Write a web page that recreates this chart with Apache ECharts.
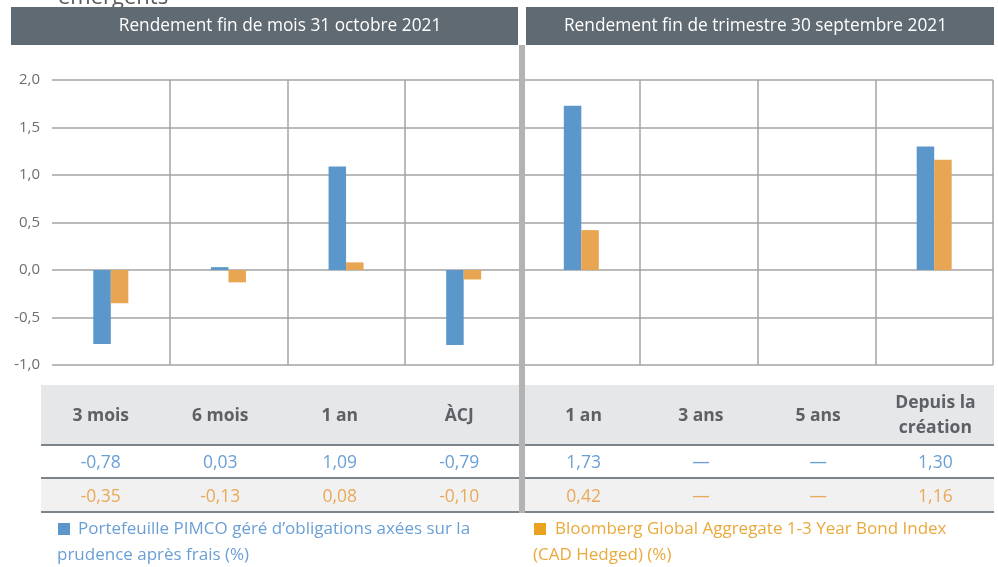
<!DOCTYPE html>
<html lang="fr">
<head>
  <meta charset="utf-8">
  <title>Rendement</title>
  <script src="https://cdn.jsdelivr.net/npm/echarts@6/dist/echarts.min.js"></script>
  <style>
    html, body { margin: 0; padding: 0; background: #fff; }
    #graphe { width: 998px; height: 567px; }
  </style>
</head>
<body>
<div id="graphe"></div>

<script>
// Données
var periodes = ['3 mois', '6 mois', '1 an', 'ÀCJ', '1 an', '3 ans', '5 ans', 'Depuis la\ncréation'];
var pimco = [-0.78, 0.03, 1.09, -0.79, 1.73, null, null, 1.30];
var bloomberg = [-0.35, -0.13, 0.08, -0.10, 0.42, null, null, 1.16];
var titresGroupes = ['Rendement fin de mois 31 octobre 2021', 'Rendement fin de trimestre 30 septembre 2021'];
var legendes = [
  ['Portefeuille PIMCO géré d’obligations axées sur la', 'prudence après frais (%)'],
  ['Bloomberg Global Aggregate 1-3 Year Bond Index', '(CAD Hedged) (%)']
];

var BLEU = '#5b97cb';
var ORANGE = '#e8a653';
var GRIS_TITRE = '#5f6a72';
var POLICE = '"Open Sans", sans-serif';

function virgule(v, dec) {
  if (v === null || v === undefined) return '—';
  return v.toFixed(dec).replace('.', ',');
}

var cles = periodes.map(function (p, i) { return (i < 4 ? 'mois:' : 'trim:') + p; });

var couleursSplit = cles.map(function () { return '#a3a3a3'; });
couleursSplit.unshift('rgba(0,0,0,0)');
couleursSplit[4] = 'rgba(0,0,0,0)';
couleursSplit.push('rgba(0,0,0,0)');

var graphe = echarts.init(document.getElementById('graphe'));

graphe.setOption({
  animation: false,
  textStyle: { fontFamily: POLICE },
  grid: { left: 52, right: 5, top: 80, height: 285 },
  xAxis: {
    type: 'category',
    data: cles,
    axisLine: { show: false },
    axisTick: { show: false },
    axisLabel: { show: false },
    splitLine: { show: true, interval: 0, lineStyle: { color: couleursSplit, width: 1.5 } }
  },
  yAxis: {
    type: 'value',
    min: -1,
    max: 2,
    interval: 0.5,
    axisLine: { show: false },
    axisTick: { show: false },
    axisLabel: {
      fontSize: 15,
      color: '#6d6e71',
      margin: 12,
      fontFamily: POLICE,
      formatter: function (v) { return virgule(v, 1); }
    },
    splitLine: { lineStyle: { color: '#a3a3a3', width: 1.5 } }
  },
  series: [
    { name: 'PIMCO', type: 'bar', data: pimco, barWidth: 17.5, barGap: '0%', itemStyle: { color: BLEU } },
    { name: 'Bloomberg', type: 'bar', data: bloomberg, barWidth: 17.5, barGap: '0%', itemStyle: { color: ORANGE } }
  ]
});

// Bandeaux, séparateur, tableau et légende
var gauche = 41, droite = 994;
var sepG = 519, sepD = 525;
var graphiques = [];

// texte coupé du titre
graphiques.push({ type: 'text', left: 58, top: -13, z: 1,
  style: { text: 'émergents', fill: '#58595b', font: '22px ' + POLICE } });

// bandeaux de titre
[[11, 518, 0], [526, 994, 1]].forEach(function (b) {
  graphiques.push({ type: 'rect', z: 5, shape: { x: b[0], y: 7, width: b[1] - b[0], height: 38 },
    style: { fill: GRIS_TITRE } });
});
graphiques.push({ type: 'text', z: 6, x: (gauche + sepG) / 2, y: 26,
  style: { text: titresGroupes[0], fill: '#fff', font: '17.3px ' + POLICE, align: 'center', verticalAlign: 'middle' } });
graphiques.push({ type: 'text', z: 6, x: (sepD + droite) / 2 - 4, y: 26,
  style: { text: titresGroupes[1], fill: '#fff', font: '17.3px ' + POLICE, align: 'center', verticalAlign: 'middle' } });

// tableau
var yEnt = 385, yL1 = 445, yL2 = 478, yL3 = 512;
graphiques.push({ type: 'rect', z: 2, shape: { x: gauche, y: yEnt, width: droite - gauche, height: yL1 - yEnt }, style: { fill: '#e6e7e8' } });
graphiques.push({ type: 'rect', z: 2, shape: { x: gauche, y: yL2, width: droite - gauche, height: yL3 - yL2 }, style: { fill: '#f1f1f2' } });
[yL1, yL2, yL3].forEach(function (y) {
  graphiques.push({ type: 'line', z: 3, shape: { x1: gauche, y1: y, x2: droite, y2: y },
    style: { stroke: '#7c848a', lineWidth: 2 } });
});

function centreColonne(i) {
  if (i < 4) {
    var w = (sepG - gauche) / 4;
    return gauche + w * (i + 0.5);
  }
  var w2 = (droite - sepD) / 4;
  return sepD + w2 * (i - 4 + 0.5);
}

periodes.forEach(function (p, i) {
  var cx = centreColonne(i);
  graphiques.push({ type: 'text', z: 4, x: cx, y: 416,
    style: { text: p, fill: '#5d6166', font: 'bold 17.5px ' + POLICE, align: 'center', verticalAlign: 'middle', lineHeight: 25 } });
  graphiques.push({ type: 'text', z: 4, x: cx, y: 463,
    style: { text: virgule(pimco[i], 2), fill: '#6a9fd6', font: '17.5px ' + POLICE, align: 'center', verticalAlign: 'middle' } });
  graphiques.push({ type: 'text', z: 4, x: cx, y: 497,
    style: { text: virgule(bloomberg[i], 2), fill: '#eaa959', font: '17.5px ' + POLICE, align: 'center', verticalAlign: 'middle' } });
});

// séparateur vertical
graphiques.push({ type: 'rect', z: 7, shape: { x: sepG, y: 45, width: sepD - sepG, height: yL3 + 1 - 45 }, style: { fill: '#b3b3b3' } });

// légende
var posLeg = [[58, 78, 57, BLEU, '#6a9fd6'], [534, 555, 533, '#e9a321', '#e9a93c']];
posLeg.forEach(function (l, k) {
  graphiques.push({ type: 'rect', z: 4, shape: { x: l[0], y: 523, width: 12, height: 12 }, style: { fill: l[3] } });
  graphiques.push({ type: 'text', z: 4, x: l[1], y: 529,
    style: { text: legendes[k][0], fill: l[4], font: '17px ' + POLICE, verticalAlign: 'middle' } });
  graphiques.push({ type: 'text', z: 4, x: l[2], y: 555,
    style: { text: legendes[k][1], fill: l[4], font: '17px ' + POLICE, verticalAlign: 'middle' } });
});

graphe.setOption({ graphic: { elements: graphiques } });
</script>
</body>
</html>
